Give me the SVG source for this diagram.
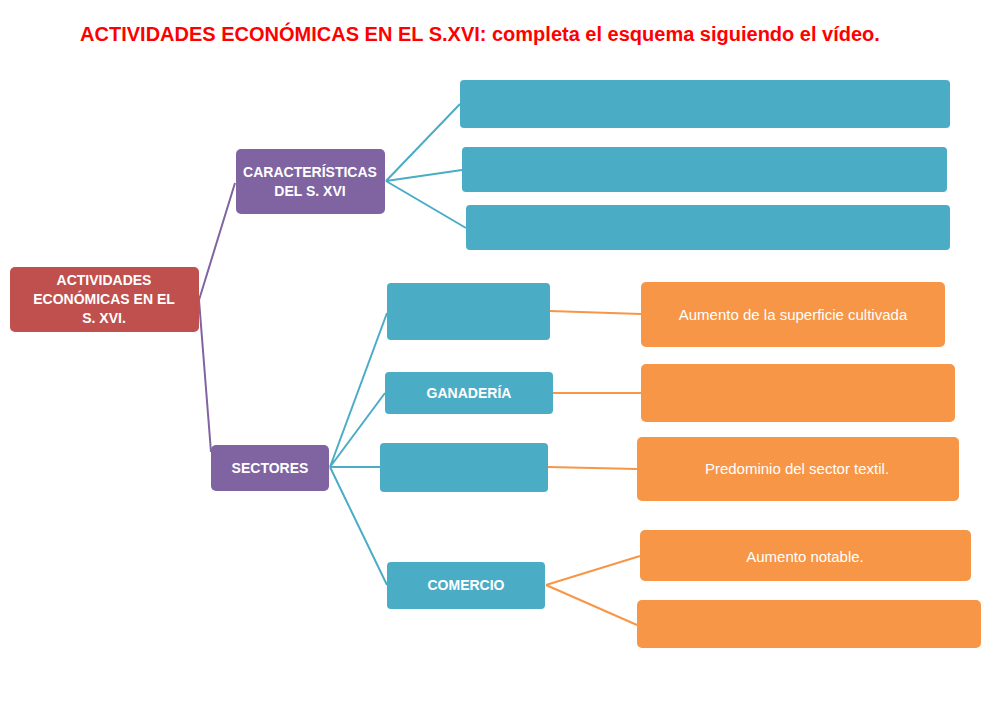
<svg xmlns="http://www.w3.org/2000/svg" width="1000" height="707" viewBox="0 0 1000 707">
<style>
.t{font-family:"Liberation Sans",Arial,sans-serif;fill:#fff;text-anchor:middle}
.b{font-weight:bold;font-size:14px}
.o{font-size:15px}
.cp{stroke:#8064a2;stroke-width:2;fill:none}
.cb{stroke:#4bacc6;stroke-width:2;fill:none}
.co{stroke:#f79646;stroke-width:2;fill:none}
.blue{fill:#4bacc6}.or{fill:#f79646}.pu{fill:#8064a2}
</style>
<rect width="1000" height="707" fill="#fff"/>
<text x="480" y="41" font-family="'Liberation Sans',Arial,sans-serif" font-weight="bold" font-size="20" fill="#ff0000" text-anchor="middle">ACTIVIDADES ECONÓMICAS EN EL S.XVI: completa el esquema siguiendo el vídeo.</text>
<g id="connectors">
<path class="cp" d="M199 300 L235 183 M199 300 L211 452"/>
<path class="cb" d="M386 181 L460 104 M386 181 L462 170 M386 181 L466 228"/>
<path class="cb" d="M330 467 L387 313 M330 467 L385 393 M330 467 L380 467 M330 467 L387 585"/>
<path class="co" d="M550 311 L641 314 M553 393 L641 393 M548 467 L637 469 M546 585 L640 556 M546 585 L637 625"/>
</g>
<g id="root"><rect x="10" y="267" width="189" height="65" rx="5" fill="#c0504d"/>
<text class="t b"><tspan x="104" y="285">ACTIVIDADES</tspan><tspan x="104" y="304">ECONÓMICAS EN EL</tspan><tspan x="104" y="323">S. XVI.</tspan></text></g>
<g id="caracteristicas"><rect class="pu" x="236" y="149" width="149" height="65" rx="5"/>
<text class="t b"><tspan x="310" y="177">CARACTERÍSTICAS</tspan><tspan x="310" y="196">DEL S. XVI</tspan></text></g>
<g id="sectores"><rect class="pu" x="211" y="445" width="118" height="46" rx="5"/>
<text class="t b" x="270" y="473">SECTORES</text></g>
<g id="c1"><rect class="blue" x="460" y="80" width="490" height="48" rx="4"/></g>
<g id="c2"><rect class="blue" x="462" y="147" width="485" height="45" rx="4"/></g>
<g id="c3"><rect class="blue" x="466" y="205" width="484" height="45" rx="4"/></g>
<g id="s1"><rect class="blue" x="387" y="283" width="163" height="57" rx="4"/></g>
<g id="ganaderia"><rect class="blue" x="385" y="372" width="168" height="42" rx="4"/>
<text class="t b" x="469" y="398">GANADERÍA</text></g>
<g id="s3"><rect class="blue" x="380" y="443" width="168" height="49" rx="4"/></g>
<g id="comercio"><rect class="blue" x="387" y="562" width="158" height="47" rx="4"/>
<text class="t b" x="466" y="590">COMERCIO</text></g>
<g id="o1"><rect class="or" x="641" y="282" width="304" height="65" rx="5"/>
<text class="t o" x="793" y="320">Aumento de la superficie cultivada</text></g>
<g id="o2"><rect class="or" x="641" y="364" width="314" height="58" rx="5"/></g>
<g id="o3"><rect class="or" x="637" y="437" width="322" height="64" rx="5"/>
<text class="t o" x="797" y="474">Predominio del sector textil.</text></g>
<g id="o4"><rect class="or" x="640" y="530" width="331" height="51" rx="5"/>
<text class="t o" x="805" y="562">Aumento notable.</text></g>
<g id="o5"><rect class="or" x="637" y="600" width="344" height="48" rx="5"/></g>
</svg>
